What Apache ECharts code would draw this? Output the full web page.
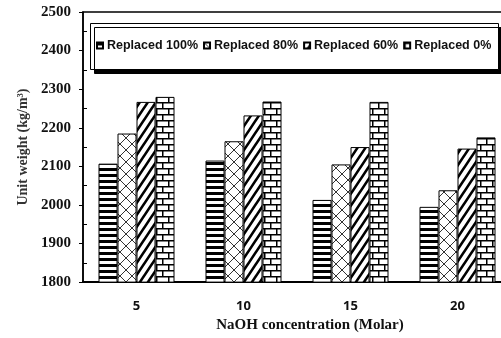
<!DOCTYPE html>
<html><head><meta charset="utf-8">
<script src="https://cdn.jsdelivr.net/npm/echarts@6/dist/echarts.min.js"></script>
<style>html,body{margin:0;padding:0;background:#fff;overflow:hidden}#c{width:520px;height:338px}</style>
</head><body><div id="c"></div>
<script>
const categories = ['5', '10', '15', '20'];
const seriesNames = ['Replaced 100%', 'Replaced 80%', 'Replaced 60%', 'Replaced 0%'];
const replaced100 = [2107, 2115, 2013, 1995];
const replaced80 = [2185, 2165, 2105, 2038];
const replaced60 = [2267, 2232, 2150, 2146];
const replaced0 = [2280, 2268, 2267, 2175];
const yTicks = [1800, 1900, 2000, 2100, 2200, 2300, 2400, 2500];

function mk(w, h, draw) {
  const c = document.createElement('canvas');
  c.width = w; c.height = h;
  const g = c.getContext('2d');
  g.fillStyle = '#fff'; g.fillRect(0, 0, w, h);
  draw(g, w, h);
  return { image: c, repeat: 'repeat' };
}
const pHoriz = mk(6, 6, (g) => { g.fillStyle = '#000'; g.fillRect(0, 0, 6, 3); });
const pCross = mk(12, 12, (g, w, h) => {
  g.strokeStyle = '#333'; g.lineWidth = 1;
  g.beginPath();
  g.moveTo(-1, -1); g.lineTo(w + 1, h + 1);
  g.moveTo(w + 1, -1); g.lineTo(-1, h + 1);
  g.stroke();
});
const pDiag = mk(8, 12, (g, w, h) => {
  g.strokeStyle = '#000'; g.lineWidth = 2.6;
  g.beginPath();
  for (let k = -1; k <= 1; k++) {
    g.moveTo(k * w - w, 2 * h); g.lineTo(k * w + 2 * w, -h);
  }
  g.stroke();
});
const pBrick = mk(12, 12, (g) => {
  g.fillStyle = '#000';
  g.fillRect(0, 0, 12, 1.5);
  g.fillRect(0, 6, 12, 1.5);
  g.fillRect(0, 0, 1.5, 6);
  g.fillRect(6, 6, 1.5, 6);
});
const patterns = [pHoriz, pCross, pDiag, pBrick];
const values = [replaced100, replaced80, replaced60, replaced0];

const chart = echarts.init(document.getElementById('c'), null, { renderer: 'canvas' });
chart.setOption({
  animation: false,
  backgroundColor: '#fff',
  grid: { left: 83, top: 12, right: 9, bottom: 52, show: true, borderColor: '#000', borderWidth: 1.5, backgroundColor: 'transparent' },
  graphic: [{
    type: 'rect', z: 1, left: 90, top: 23,
    shape: { width: 408, height: 46 },
    style: { fill: '#fff', stroke: '#000', lineWidth: 1, shadowColor: '#000', shadowOffsetX: 4, shadowOffsetY: 4, shadowBlur: 0.1 }
  }],
  legend: {
    z: 10, left: 96, top: 39, width: 420, itemWidth: 6, itemHeight: 6, itemGap: 5, icon: 'rect', padding: 0,
    textStyle: { fontFamily: 'Liberation Sans', fontWeight: 'bold', fontSize: 12.5, color: '#111', padding: [0, 0, 0, -1] },
    data: seriesNames
  },
  xAxis: {
    type: 'category', data: categories,
    axisLine: { lineStyle: { color: '#000', width: 2 } },
    axisTick: { show: false },
    axisLabel: { margin: 18, fontFamily: 'Noto Sans', fontWeight: 'bold', fontSize: 13, color: '#111' },
    name: 'NaOH concentration (Molar)', nameLocation: 'middle', nameGap: 32,
    nameTextStyle: { fontFamily: 'Liberation Serif', fontWeight: 'bold', fontSize: 15, color: '#111', padding: [0, 0, 0, 26] }
  },
  yAxis: {
    type: 'value', min: 1800, max: 2500, interval: 100,
    axisLine: { show: true, lineStyle: { color: '#000', width: 1.5 } },
    axisTick: { show: true, length: 4, lineStyle: { color: '#000' } },
    minorTick: { show: true, splitNumber: 2, length: -4, lineStyle: { color: '#000' } },
    splitLine: { show: false },
    axisLabel: { margin: 12, fontFamily: 'Liberation Serif', fontWeight: 'bold', fontSize: 15, color: '#111',
      formatter: (v) => yTicks.includes(v) ? String(v) : '' },
    name: 'Unit weight (kg/m³)', nameLocation: 'middle', nameGap: 52,
    nameTextStyle: { fontFamily: 'Liberation Serif', fontWeight: 'bold', fontSize: 14, color: '#333' }
  },
  series: seriesNames.map((n, i) => ({
    name: n, type: 'bar', data: values[i], barWidth: 19, barGap: '0%',
    itemStyle: { color: patterns[i], borderColor: '#000', borderWidth: 1 }
  }))
});
</script></body></html>
